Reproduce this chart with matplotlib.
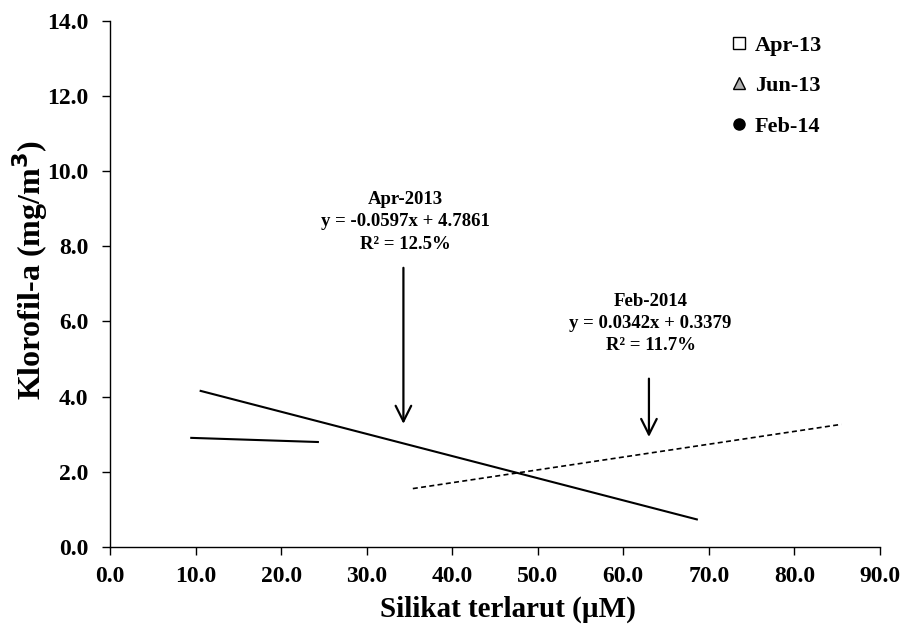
import matplotlib
matplotlib.use("Agg")
import matplotlib.pyplot as plt
from matplotlib.lines import Line2D

plt.rcParams['font.family'] = ['Liberation Serif', 'DejaVu Serif']
plt.rcParams['font.weight'] = 'bold'

# Trend line end points
apr_x = [10.6, 68.6]
apr_y = [4.15, 0.73]
jun_x = [9.5, 24.3]
jun_y = [2.90, 2.79]
feb_x = [35.4, 85.5]
feb_y = [1.55, 3.26]

x_ticks = [0, 10, 20, 30, 40, 50, 60, 70, 80, 90]
y_ticks = [0, 2, 4, 6, 8, 10, 12, 14]
legend_labels = ["Apr-13", "Jun-13", "Feb-14"]

fig = plt.figure(figsize=(9.09, 6.30), dpi=100)
ax = fig.add_axes([0.121, 0.132, 0.847, 0.835])

ax.plot(apr_x, apr_y, color='black', lw=1.5)
ax.plot(jun_x, jun_y, color='black', lw=1.5)
ax.plot(feb_x, feb_y, color='black', lw=1.2, ls=(0, (3, 2)))

ax.set_xlim(0, 90)
ax.set_ylim(0, 14)
ax.set_xticks(x_ticks)
ax.set_yticks(y_ticks)
ax.set_xticklabels([f"{v:.1f}" for v in x_ticks], fontsize=17, fontweight='bold')
ax.set_yticklabels([f"{v:.1f}" for v in y_ticks], fontsize=17, fontweight='bold')
ax.tick_params(axis='y', direction='out', length=6, width=1, pad=9.5)
ax.tick_params(axis='x', direction='out', length=6, width=1, pad=8)
for s in ['top', 'right']:
    ax.spines[s].set_visible(False)
for s in ['left', 'bottom']:
    ax.spines[s].set_linewidth(1)

ax.set_xlabel("Silikat terlarut (µM)", fontsize=21, fontweight='bold')
ax.xaxis.set_label_coords(0.517, -0.118)
ax.xaxis.label.set_va('center')
ax.set_ylabel("Klorofil-a (mg/m$^\\mathbf{3}$)", fontsize=23, fontweight='bold')
ax.yaxis.set_label_coords(-0.104, 0.527)
ax.yaxis.label.set_va('center')

# Annotations
ax.text(34.5, 8.65, "Apr-2013\ny = -0.0597x + 4.7861\nR² = 12.5%", ha='center', va='center',
        fontsize=13.5, fontweight='bold', linespacing=1.4)
ax.annotate("", xy=(34.3, 3.2), xytext=(34.3, 7.5),
            arrowprops=dict(arrowstyle='->', color='black', lw=1.6, mutation_scale=28))
ax.text(63.2, 5.94, "Feb-2014\ny = 0.0342x + 0.3379\nR² = 11.7%", ha='center', va='center',
        fontsize=13.5, fontweight='bold', linespacing=1.4)
ax.annotate("", xy=(63.0, 2.85), xytext=(63.0, 4.55),
            arrowprops=dict(arrowstyle='->', color='black', lw=1.6, mutation_scale=28))

handles = [
    Line2D([], [], ls='none', marker='s', markersize=8, markerfacecolor='white', markeredgecolor='black'),
    Line2D([], [], ls='none', marker='^', markersize=8, markerfacecolor='#b0b0b0', markeredgecolor='black'),
    Line2D([], [], ls='none', marker='o', markersize=8, markerfacecolor='black', markeredgecolor='black'),
]
leg = ax.legend(handles, legend_labels, loc='upper left', bbox_to_anchor=(0.806, 0.973),
                frameon=False, prop={'size': 16, 'weight': 'bold'}, labelspacing=0.9,
                handletextpad=0.3, handlelength=0.8, borderpad=0, borderaxespad=0)

fig.savefig("out.png", dpi=100)
